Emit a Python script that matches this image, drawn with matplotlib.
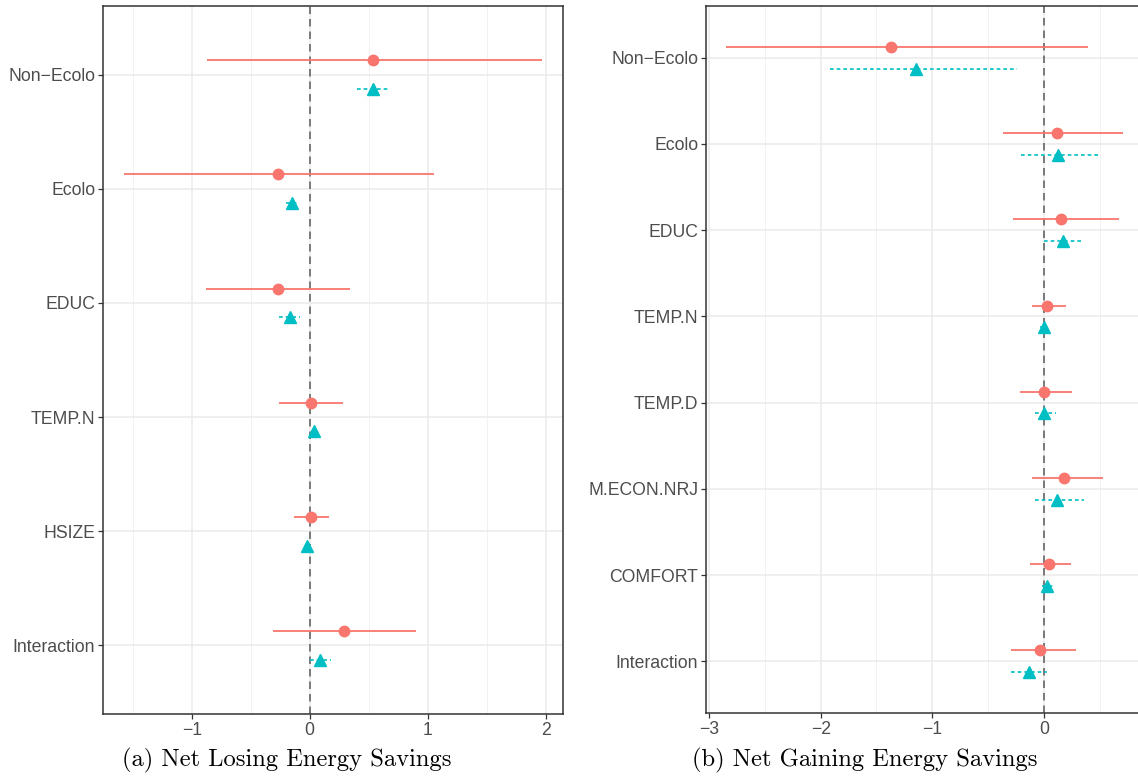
import numpy as np
import matplotlib
matplotlib.use("Agg")
import matplotlib.pyplot as plt

# (a) Net Losing Energy Savings
left_terms = ["Non\u2212Ecolo", "Ecolo", "EDUC", "TEMP.N", "HSIZE", "Interaction"]
left_red_est = [0.54, -0.265, -0.27, 0.01, 0.01, 0.29]
left_red_lo = [-0.87, -1.575, -0.88, -0.26, -0.13, -0.31]
left_red_hi = [1.97, 1.055, 0.34, 0.28, 0.16, 0.90]
left_blue_est = [0.54, -0.15, -0.17, 0.04, -0.02, 0.085]
left_blue_lo = [0.40, -0.20, -0.26, 0.01, -0.05, 0.0]
left_blue_hi = [0.68, -0.10, -0.08, 0.07, 0.01, 0.18]

# (b) Net Gaining Energy Savings
right_terms = ["Non\u2212Ecolo", "Ecolo", "EDUC", "TEMP.N", "TEMP.D",
               "M.ECON.NRJ", "COMFORT", "Interaction"]
right_red_est = [-1.373, 0.117, 0.156, 0.03, 0.006, 0.179, 0.045, -0.032]
right_red_lo = [-2.85, -0.367, -0.273, -0.107, -0.21, -0.107, -0.123, -0.29]
right_red_hi = [0.40, 0.711, 0.675, 0.195, 0.253, 0.532, 0.24, 0.29]
right_blue_est = [-1.146, 0.123, 0.169, 0.0, 0.006, 0.12, 0.032, -0.13]
right_blue_lo = [-1.92, -0.205, 0.006, -0.03, -0.075, -0.081, -0.02, -0.29]
right_blue_hi = [-0.237, 0.51, 0.364, 0.03, 0.11, 0.357, 0.08, 0.03]

captions = ["(a) Net Losing Energy Savings", "(b) Net Gaining Energy Savings"]

RED = "#F8766D"
BLUE = "#00BFC4"
plt.rcParams['font.family'] = ['Liberation Sans', 'DejaVu Sans']

W, H = 1138, 784
fig = plt.figure(figsize=(W / 100, H / 100), dpi=100)


def px_axes(x0, x1, y0, y1):
    # pixel box (from top-left) -> figure coords
    return fig.add_axes([x0 / W, 1 - y1 / H, (x1 - x0) / W, (y1 - y0) / H])


def forest(ax, terms, r_est, r_lo, r_hi, b_est, b_lo, b_hi):
    n = len(terms)
    ypos = np.arange(n)[::-1]
    dodge = 0.125

    ax.set_xticks(np.arange(-3, 3, 1))
    ax.set_xticks(np.arange(-2.5, 3, 1), minor=True)
    ax.set_yticks(ypos)
    ax.set_yticklabels(terms)
    ax.grid(True, which='major', color='#EBEBEB', lw=1.1)
    ax.grid(True, which='minor', axis='x', color='#F2F2F2', lw=0.7)
    ax.set_axisbelow(True)

    ax.axvline(0, color='#666666', lw=1.2, ls=(0, (4.5, 3)), zorder=1)

    ax.hlines(ypos + dodge, r_lo, r_hi, color=RED, lw=1.3, zorder=2)
    ax.plot(r_est, ypos + dodge, 'o', color=RED, ms=7.5, zorder=3)
    ax.hlines(ypos - dodge, b_lo, b_hi, color=BLUE, lw=1.2,
              linestyles=(0, (2.2, 1.8)), zorder=2)
    ax.plot(b_est, ypos - dodge, '^', color=BLUE, ms=8, zorder=3)

    # ggplot-like 5% expansion around the data
    data_lo = min(min(r_lo), min(b_lo))
    data_hi = max(max(r_hi), max(b_hi))
    pad = 0.05 * (data_hi - data_lo)
    ax.set_xlim(data_lo - pad, data_hi + pad)
    ax.set_ylim(-0.6, n - 0.4)

    for s in ax.spines.values():
        s.set_color('#333333')
        s.set_linewidth(1.1)
    ax.tick_params(which='major', length=3.5, width=0.9, color='#333333',
                   labelsize=12.7, labelcolor='#4D4D4D', pad=2)
    ax.tick_params(which='minor', length=0)


ax1 = px_axes(103, 563, 6, 714)
forest(ax1, left_terms, left_red_est, left_red_lo, left_red_hi,
       left_blue_est, left_blue_lo, left_blue_hi)

ax2 = px_axes(706, 1143, 6, 713)
forest(ax2, right_terms, right_red_est, right_red_lo, right_red_hi,
       right_blue_est, right_blue_lo, right_blue_hi)

fig.text(287 / W, 1 - 760 / H, captions[0], family='cmr10', fontsize=17.7,
         ha='center', va='center')
fig.text(865 / W, 1 - 760 / H, captions[1], family='cmr10', fontsize=17.7,
         ha='center', va='center')

plt.savefig("out.png", dpi=100)
